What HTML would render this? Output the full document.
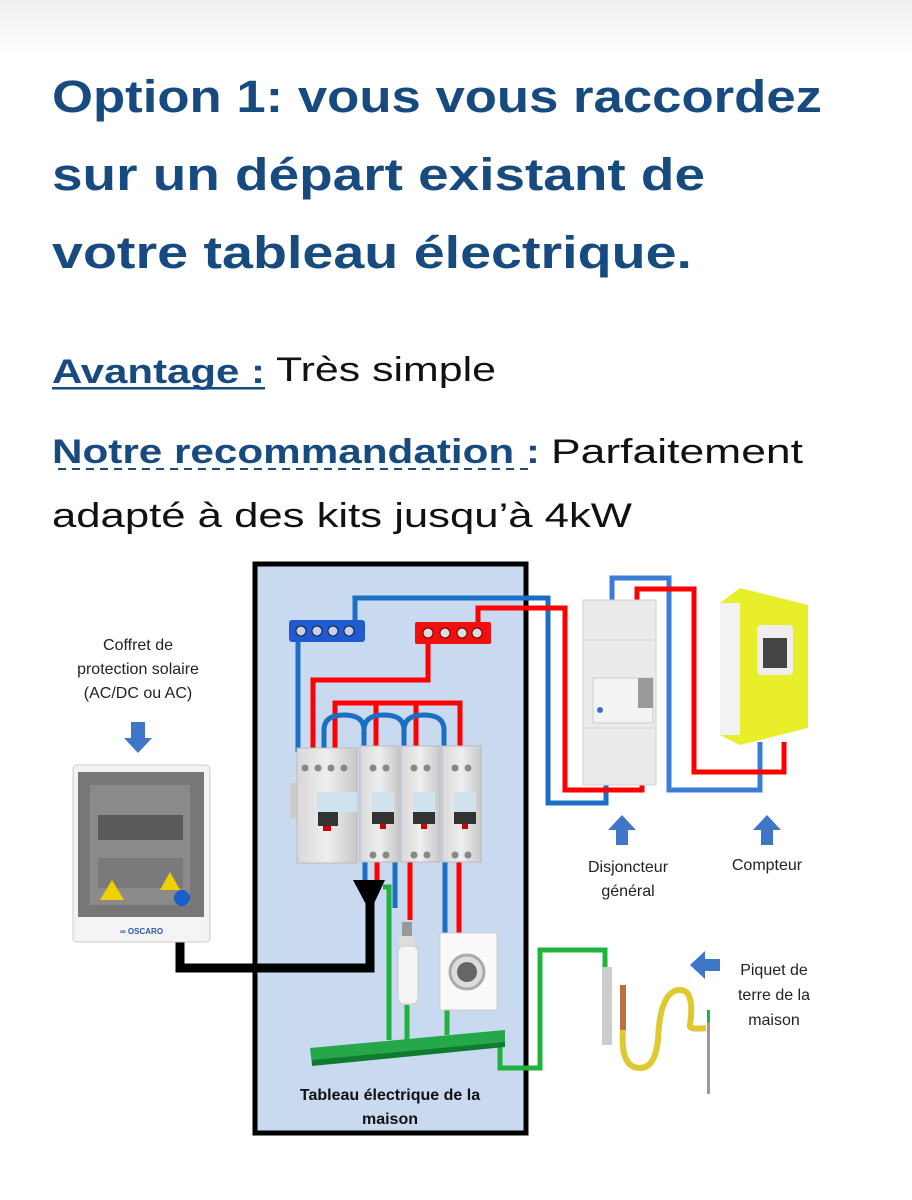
<!DOCTYPE html>
<html><head><meta charset="utf-8">
<style>
html,body{margin:0;padding:0;background:#fff;}
svg{display:block;}
text{font-family:"Liberation Sans",sans-serif;}
</style></head>
<body>
<svg width="912" height="1200" viewBox="0 0 912 1200" xmlns="http://www.w3.org/2000/svg">
<defs>
<linearGradient id="top" x1="0" y1="0" x2="0" y2="1"><stop offset="0" stop-color="#f0f0f0"/><stop offset="1" stop-color="#ffffff"/></linearGradient>
<linearGradient id="brk" x1="0" y1="0" x2="1" y2="0"><stop offset="0" stop-color="#d8d8d8"/><stop offset="0.5" stop-color="#eeeeee"/><stop offset="1" stop-color="#c8c8c8"/></linearGradient>
</defs>
<rect width="912" height="1200" fill="#fff"/>
<rect width="912" height="60" fill="url(#top)"/>

<g fill="#174b80" font-weight="bold" font-size="45">
<text x="52" y="112" textLength="770" lengthAdjust="spacingAndGlyphs">Option 1: vous vous raccordez</text>
<text x="52" y="190" textLength="653" lengthAdjust="spacingAndGlyphs">sur un départ existant de</text>
<text x="52" y="268" textLength="640" lengthAdjust="spacingAndGlyphs">votre tableau électrique.</text>
</g>
<g font-size="34">
<text x="52" y="383" fill="#174b80" font-weight="bold" textLength="213" lengthAdjust="spacingAndGlyphs">Avantage :</text>
<rect x="52" y="387" width="213" height="2.5" fill="#174b80"/>
<text x="276" y="381" fill="#111" textLength="220" lengthAdjust="spacingAndGlyphs">Très simple</text>
<text x="52" y="463" fill="#174b80" font-weight="bold" textLength="488" lengthAdjust="spacingAndGlyphs">Notre recommandation :</text>
<line x1="58" y1="469" x2="530" y2="469" stroke="#174b80" stroke-width="2" stroke-dasharray="8,6"/>
<text x="551" y="463" fill="#111" textLength="252" lengthAdjust="spacingAndGlyphs">Parfaitement</text>
<text x="52" y="527" fill="#111" textLength="580" lengthAdjust="spacingAndGlyphs">adapté à des kits jusqu’à 4kW</text>
</g>

<rect x="255" y="564" width="271" height="569" fill="#c9d9ef" stroke="#000" stroke-width="5"/>

<g fill="none" stroke-width="5" stroke-linejoin="miter">
<polyline points="355,630 355,598 548,598 548,803 606,803 606,785" stroke="#1a6fc4"/>
<polyline points="478,630 478,608 565,608 565,790 642,790 642,775" stroke="#f00"/>
<polyline points="612,602 612,578 669,578 669,790 760,790 760,742" stroke="#3a7cd6"/>
<polyline points="637,602 637,589 694,589 694,772 784,772 784,742" stroke="#f00"/>
<polyline points="298,640 298,752" stroke="#1a6fc4"/>
<polyline points="428,640 428,680 313,680 313,752" stroke="#f00"/>
<polyline points="335,752 335,703 460,703 460,752" stroke="#f00"/>
<line x1="376" y1="703" x2="376" y2="752" stroke="#f00"/>
<line x1="416" y1="703" x2="416" y2="752" stroke="#f00"/>
<path d="M324,752 V730 Q324,715 344,715 Q364,715 364,730 V752 M364,730 Q364,715 384,715 Q404,715 404,730 V752 M404,730 Q404,715 424,715 Q444,715 444,730 V752" stroke="#1a6fc4"/>
<line x1="395" y1="860" x2="395" y2="908" stroke="#1a6fc4"/>
<line x1="410" y1="860" x2="410" y2="920" stroke="#f00"/>
<line x1="445" y1="860" x2="445" y2="935" stroke="#1a6fc4"/>
<line x1="459" y1="860" x2="459" y2="935" stroke="#f00"/>
<line x1="365" y1="860" x2="365" y2="880" stroke="#1a6fc4"/>
<line x1="377" y1="860" x2="377" y2="880" stroke="#f00"/>
<polyline points="383,887 389,887 389,1040" stroke="#1db33c"/>
<line x1="407" y1="1005" x2="407" y2="1040" stroke="#1db33c"/>
<line x1="447" y1="1010" x2="447" y2="1035" stroke="#1db33c"/>
<polyline points="500,1040 500,1068 540,1068 540,950 605,950 605,975" stroke="#1db33c"/>
</g>
<polyline points="180,940 180,968 370,968 370,895" fill="none" stroke="#000" stroke-width="9"/>
<polygon points="353,880 385,880 370,912" fill="#000"/>

<rect x="289" y="620" width="76" height="22" rx="3" fill="#1f5ad0"/>
<g fill="#c8d0e8" stroke="#123" stroke-width="1"><circle cx="301" cy="631" r="5"/><circle cx="317" cy="631" r="5"/><circle cx="333" cy="631" r="5"/><circle cx="349" cy="631" r="5"/></g>
<rect x="415" y="622" width="76" height="22" rx="2" fill="#f01010"/>
<g fill="#ddd" stroke="#600" stroke-width="1"><circle cx="428" cy="633" r="5"/><circle cx="445" cy="633" r="5"/><circle cx="462" cy="633" r="5"/><circle cx="477" cy="633" r="5"/></g>

<g>
<rect x="290" y="783" width="8" height="35" fill="#ccc"/>
<rect x="297" y="748" width="60" height="115" fill="url(#brk)" stroke="#bbb"/>
<rect x="360" y="746" width="39" height="116" fill="url(#brk)" stroke="#bbb"/>
<rect x="401" y="746" width="39" height="116" fill="url(#brk)" stroke="#bbb"/>
<rect x="442" y="746" width="39" height="116" fill="url(#brk)" stroke="#bbb"/>
<g fill="#888"><circle cx="305" cy="768" r="3.5"/><circle cx="318" cy="768" r="3.5"/><circle cx="331" cy="768" r="3.5"/><circle cx="344" cy="768" r="3.5"/>
<circle cx="373" cy="768" r="3.5"/><circle cx="386" cy="768" r="3.5"/><circle cx="414" cy="768" r="3.5"/><circle cx="427" cy="768" r="3.5"/><circle cx="455" cy="768" r="3.5"/><circle cx="468" cy="768" r="3.5"/>
<circle cx="373" cy="855" r="3.5"/><circle cx="386" cy="855" r="3.5"/><circle cx="414" cy="855" r="3.5"/><circle cx="427" cy="855" r="3.5"/><circle cx="455" cy="855" r="3.5"/><circle cx="468" cy="855" r="3.5"/></g>
<rect x="317" y="792" width="40" height="20" fill="#cfe3ee"/>
<rect x="318" y="812" width="20" height="14" fill="#333"/><rect x="323" y="826" width="8" height="5" fill="#c00"/>
<rect x="372" y="792" width="22" height="20" fill="#cfe3ee"/><rect x="372" y="812" width="22" height="12" fill="#333"/><rect x="380" y="824" width="6" height="5" fill="#c00"/>
<rect x="413" y="792" width="22" height="20" fill="#cfe3ee"/><rect x="413" y="812" width="22" height="12" fill="#333"/><rect x="421" y="824" width="6" height="5" fill="#c00"/>
<rect x="454" y="792" width="22" height="20" fill="#cfe3ee"/><rect x="454" y="812" width="22" height="12" fill="#333"/><rect x="462" y="824" width="6" height="5" fill="#c00"/>
</g>

<rect x="402" y="922" width="10" height="14" fill="#999"/>
<rect x="399" y="936" width="16" height="10" fill="#ddd"/>
<rect x="398" y="946" width="20" height="58" rx="6" fill="#f4f4f4" stroke="#ccc"/>
<rect x="440" y="933" width="57" height="77" fill="#fafafa" stroke="#ccc"/>
<circle cx="467" cy="972" r="17" fill="#ddd" stroke="#aaa" stroke-width="3"/>
<circle cx="467" cy="972" r="10" fill="#666"/>
<polygon points="310,1048 505,1030 505,1045 312,1065" fill="#24a84a"/>
<polygon points="312,1060 505,1042 505,1047 312,1066" fill="#0f7a30"/>

<text x="390" y="1100" text-anchor="middle" font-size="16" font-weight="bold" fill="#111">Tableau électrique de la</text>
<text x="390" y="1124" text-anchor="middle" font-size="16" font-weight="bold" fill="#111">maison</text>

<rect x="583" y="600" width="73" height="185" fill="#ebebeb" stroke="#d0d0d0"/>
<line x1="583" y1="640" x2="656" y2="640" stroke="#d8d8d8"/>
<line x1="583" y1="728" x2="656" y2="728" stroke="#d8d8d8"/>
<rect x="593" y="678" width="60" height="45" fill="#f3f3f3" stroke="#ccc"/>
<rect x="638" y="678" width="15" height="30" fill="#999"/>
<circle cx="600" cy="710" r="3" fill="#3a6fc8"/>
<polygon points="720,603 740,588 808,605 808,728 740,745 720,735" fill="#e8ee2a"/>
<rect x="720" y="603" width="20" height="132" fill="#f2f2f2"/>
<rect x="757" y="625" width="36" height="50" rx="4" fill="#eee"/>
<rect x="763" y="638" width="24" height="30" fill="#444"/>

<rect x="73" y="765" width="137" height="177" rx="4" fill="#f2f2f2" stroke="#ccc"/>
<rect x="78" y="772" width="126" height="145" fill="#777"/>
<rect x="90" y="785" width="100" height="120" fill="#8a8a8a"/>
<rect x="98" y="815" width="85" height="25" fill="#5a5a5a"/>
<rect x="98" y="858" width="85" height="30" fill="#7a7a7a"/>
<polygon points="100,900 112,880 124,900" fill="#f0d000"/>
<polygon points="160,890 170,872 180,890" fill="#f0d000"/>
<circle cx="182" cy="898" r="8" fill="#1a5ec8"/>
<rect x="78" y="917" width="126" height="23" fill="#f4f4f4"/>
<text x="120" y="934" font-size="8" fill="#2a5aa0" font-weight="bold">∞ OSCARO</text>

<g font-size="16" fill="#222" text-anchor="middle">
<text x="138" y="650">Coffret de</text>
<text x="138" y="674">protection solaire</text>
<text x="138" y="698">(AC/DC ou AC)</text>
<text x="628" y="872">Disjoncteur</text>
<text x="628" y="896">général</text>
<text x="767" y="870">Compteur</text>
<text x="774" y="975">Piquet de</text>
<text x="774" y="1000">terre de la</text>
<text x="774" y="1025">maison</text>
</g>
<g fill="#3f76c8">
<polygon points="131,722 145,722 145,738 152,738 138,753 124,738 131,738"/>
<polygon points="616,845 628,845 628,830 636,830 622,815 608,830 616,830"/>
<polygon points="761,845 773,845 773,830 781,830 767,815 753,830 761,830"/>
<polygon points="720,959 720,971 705,971 705,979 690,965 705,951 705,959"/>
</g>

<rect x="602" y="967" width="10" height="78" fill="#ccc"/>
<rect x="620" y="985" width="6" height="45" fill="#b87040"/>
<path d="M623,1030 Q620,1068 640,1068 Q655,1068 658,1040 Q660,990 680,990 Q695,990 690,1025 Q688,1030 706,1028" fill="none" stroke="#e0c830" stroke-width="6"/>
<rect x="707" y="1010" width="3" height="12" fill="#1db33c"/>
<rect x="707" y="1022" width="3" height="72" fill="#999"/>
</svg>
</body></html>
